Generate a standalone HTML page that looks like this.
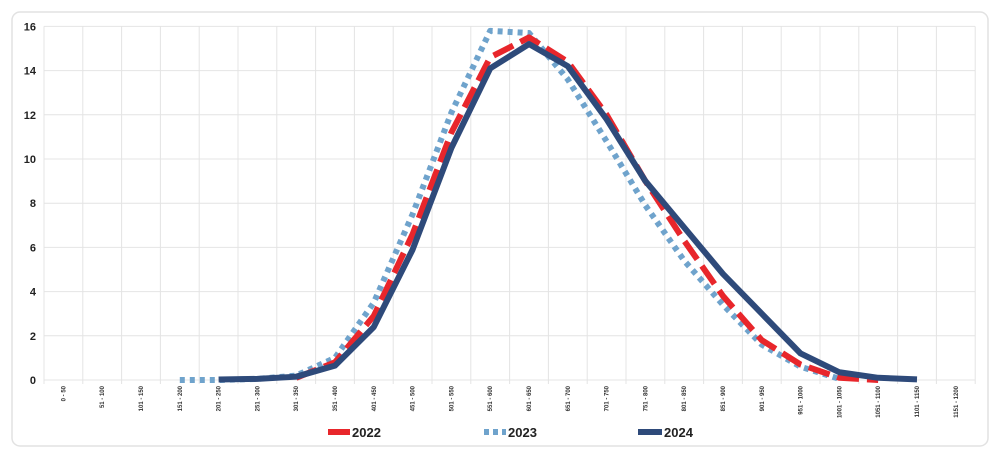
<!DOCTYPE html>
<html><head><style>
body{margin:0;background:#fff;width:1000px;height:458px;overflow:hidden;font-family:"Liberation Sans",sans-serif}
</style></head><body>
<svg width="1000" height="458" xmlns="http://www.w3.org/2000/svg">
<rect x="12" y="12" width="976" height="434" rx="8" fill="#fff" stroke="#e2e2e2" stroke-width="1.5"/>
<g id="grid" stroke="#e4e4e4" stroke-width="1"></g>
<g id="lab" font-size="11" font-weight="bold" fill="#222"></g>
<g id="xl" font-size="6" font-weight="bold" fill="#333"></g>
<g id="ser" fill="none" stroke-linejoin="round"></g>
<g font-size="13" font-weight="bold" fill="#222">
<line x1="328" y1="432" x2="350" y2="432" stroke="#e8262b" stroke-width="6"/><text x="352" y="437">2022</text>
<line x1="484" y1="432" x2="506" y2="432" stroke="#6fa3cc" stroke-width="6" stroke-dasharray="5,4"/><text x="508" y="437">2023</text>
<line x1="638" y1="432" x2="662" y2="432" stroke="#2e4a7a" stroke-width="6"/><text x="664" y="437">2024</text>
</g>
</svg>
<script>
const ns="http://www.w3.org/2000/svg";
function el(p,t,a,txt){const e=document.createElementNS(ns,t);for(const k in a)e.setAttribute(k,a[k]);if(txt!==undefined)e.textContent=txt;document.getElementById(p).appendChild(e);}
const L=44,W=38.8,Y0=380,S=22.1;
for(let v=0;v<=16;v+=2){el("grid","line",{x1:L,x2:975,y1:Y0-v*S,y2:Y0-v*S});el("lab","text",{x:36,y:Y0-v*S+4,"text-anchor":"end"},v);}
for(let i=0;i<=24;i++){el("grid","line",{x1:L+i*W,x2:L+i*W,y1:Y0-16*S,y2:Y0+4});}
for(let i=0;i<24;i++){const a=i*50+(i?1:0),b=(i+1)*50;const x=L+W*(i+.5)+2;el("xl","text",{transform:`translate(${x},386) rotate(-90)`,"text-anchor":"end"},a+" - "+b);}
function ser(start,vals,st){let d="";vals.forEach((v,j)=>{d+=(j?"L":"M")+(L+W*(start+j+.5))+","+(Y0-v*S)});el("ser","path",Object.assign({d},st));}
ser(3,[0,0,0.05,0.2,1.0,3.5,7.5,12.1,15.8,15.7,13.6,10.8,7.9,5.4,3.4,1.6,0.6,0.05],{stroke:"#6fa3cc","stroke-width":6,"stroke-dasharray":"5,5"});
ser(6,[0.1,0.8,2.9,6.6,11.2,14.6,15.5,14.4,12.0,9.0,6.3,3.8,1.8,0.7,0.1,0],{stroke:"#e8262b","stroke-width":6,"stroke-dasharray":"22,8"});
ser(4,[0.02,0.05,0.15,0.65,2.4,5.9,10.5,14.1,15.2,14.2,11.8,9.0,6.9,4.8,3.0,1.2,0.35,0.1,0.03],{stroke:"#2e4a7a","stroke-width":6});
</script>
</body></html>
